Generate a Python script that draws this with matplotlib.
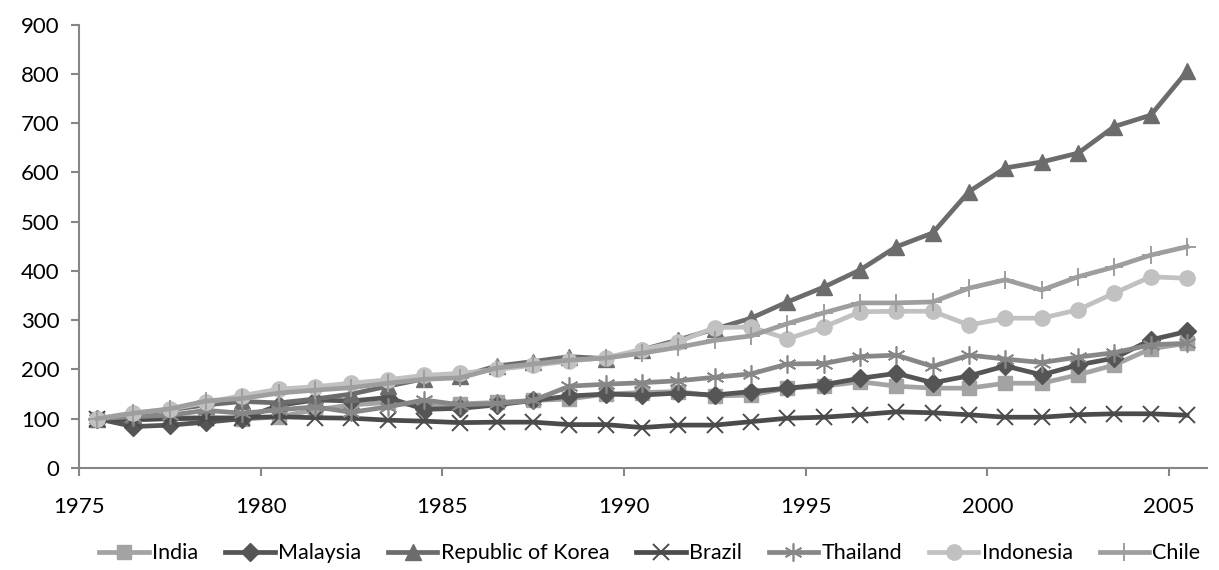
import matplotlib.pyplot as plt
import numpy as np

plt.rcParams['font.family'] = ['Lato', 'DejaVu Sans']

# index values, 1975 = 100
years = np.arange(1975, 2006)
india = [100, 97, 101, 103, 99, 104, 118, 128, 133, 126, 130, 133, 137, 140, 150, 153,
         155, 146, 148, 162, 166, 175, 166, 162, 162, 172, 172, 189, 209, 242, 253]
malaysia = [100, 84, 87, 93, 100, 127, 138, 136, 143, 119, 121, 128, 137, 146, 150, 148,
            152, 148, 155, 162, 169, 182, 192, 173, 187, 207, 189, 209, 223, 260, 277]
korea = [100, 108, 118, 128, 135, 132, 140, 150, 166, 181, 186, 207, 216, 226, 222, 240,
         260, 282, 304, 337, 367, 402, 449, 477, 561, 609, 621, 639, 693, 716, 805]
brazil = [100, 98, 100, 101, 102, 104, 102, 101, 97, 95, 92, 93, 93, 88, 88, 82,
          87, 87, 94, 101, 103, 108, 114, 112, 108, 103, 103, 108, 110, 110, 107]
thailand = [100, 104, 107, 117, 111, 118, 124, 113, 124, 138, 128, 131, 137, 166, 170, 173,
            177, 184, 191, 211, 212, 226, 229, 206, 229, 221, 214, 225, 234, 250, 253]
indonesia = [100, 112, 119, 133, 147, 160, 165, 172, 179, 188, 192, 200, 208, 217, 224, 240,
             256, 285, 286, 262, 286, 317, 318, 318, 290, 304, 304, 321, 355, 388, 385]
chile = [100, 111, 120, 136, 141, 152, 158, 163, 172, 180, 183, 203, 211, 219, 223, 233,
         245, 259, 268, 293, 315, 335, 335, 337, 365, 382, 361, 388, 408, 432, 449]

series = [
    ("India", india, "#a3a3a3", "s", 10, 1.0),
    ("Malaysia", malaysia, "#555555", "D", 9, 1.0),
    ("Republic of Korea", korea, "#6c6c6c", "^", 11, 1.0),
    ("Brazil", brazil, "#4b4b4b", "x", 12, 1.4),
    ("Thailand", thailand, "#878787", (6, 2, 0), 13, 1.2),
    ("Indonesia", indonesia, "#c1c1c1", "o", 11, 1.0),
    ("Chile", chile, "#9e9e9e", "+", 13, 1.4),
]

fig = plt.figure(figsize=(12.19, 5.70), dpi=100)
ax = fig.add_axes([0.0648, 0.179, 0.9254, 0.778])

# points sit in the middle of each year's category
x = years + 0.5
for name, vals, col, mk, ms, mew in series:
    ax.plot(x, vals, color=col, lw=3.4, marker=mk, markersize=ms,
            markerfacecolor=col, markeredgecolor=col, markeredgewidth=mew,
            solid_joinstyle='round', label=name)

ax.set_xlim(1975, 2006.05)
ax.set_ylim(0, 900)
ax.set_xticks(np.arange(1975, 2006, 5))
ax.set_yticks(np.arange(0, 901, 100))

for side in ['top', 'right']:
    ax.spines[side].set_visible(False)
for side in ['left', 'bottom']:
    ax.spines[side].set_color('#868686')
    ax.spines[side].set_linewidth(1.5)
ax.tick_params(colors='#868686', length=6, width=1.5, labelcolor='black',
               labelsize=16)
ax.tick_params(axis='x', pad=15)
ax.tick_params(axis='y', pad=8)

ax.legend(loc='upper center', bbox_to_anchor=(0.506, -0.15), ncol=7, frameon=False,
          fontsize=15.5, handlelength=2.3, handletextpad=0.15, columnspacing=1.25,
          borderaxespad=0)

fig.savefig('out.png', dpi=100)
